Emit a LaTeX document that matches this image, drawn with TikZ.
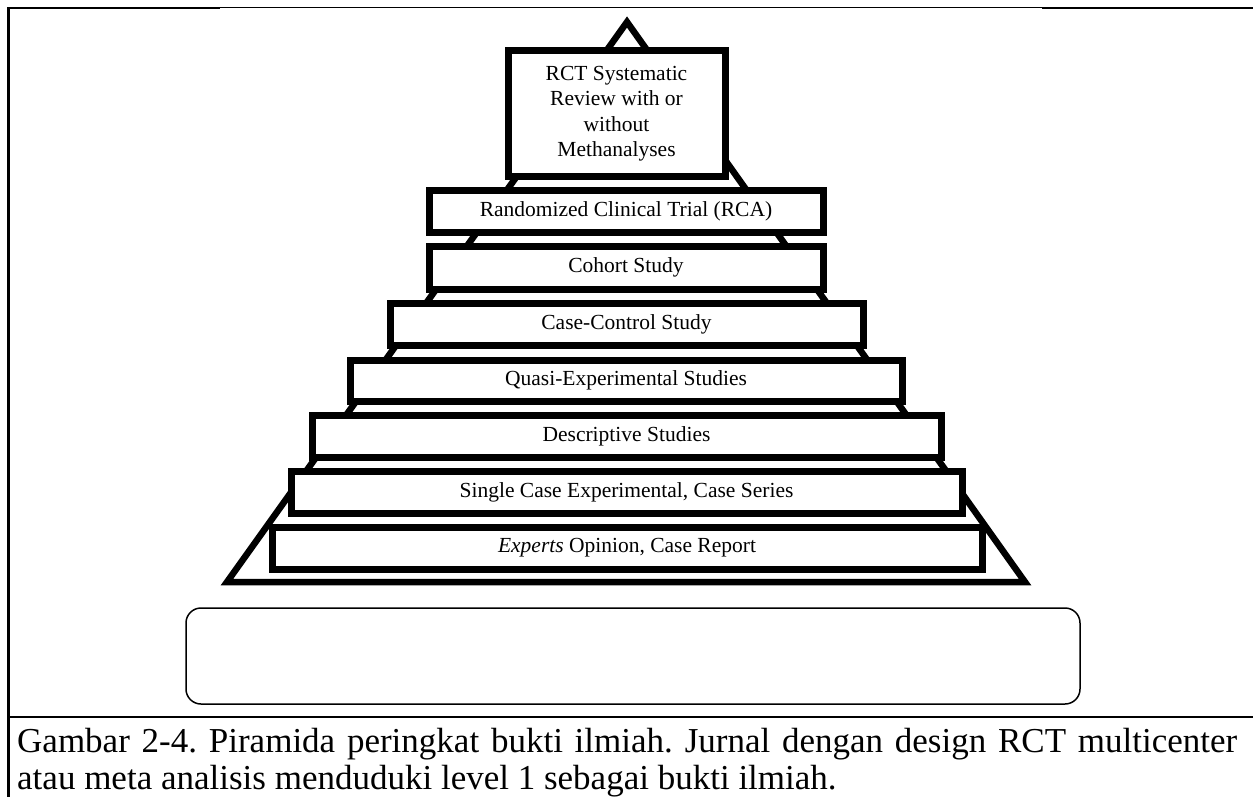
\documentclass[tikz,border=0pt]{standalone}
\usepackage{fontspec}
\setmainfont{Liberation Serif}
\frenchspacing
\begin{document}
\begin{tikzpicture}[x=1pt,y=-1pt,
  tier/.style={draw, line width=7pt, fill=white, inner sep=0pt,
    font=\fontsize{21.5}{25.5}\selectfont, align=center},
  frameline/.style={line width=1.5pt},
  caption/.style={anchor=north west, inner sep=0pt, text width=1220pt,
    align=justify, font=\fontsize{35}{37}\selectfont}
]
\useasboundingbox (0,0) rectangle (1253,797);

% pyramid outline behind the tiers
\coordinate (apex) at (627,22);
\coordinate (baseR) at (1025,582);
\coordinate (baseL) at (227,582);
\draw[line width=6.5pt, line join=miter] (apex) -- (baseR) -- (baseL) -- cycle;

% tiers, top to bottom
\node[tier, minimum width=217pt, minimum height=125pt] (t1) at (616.5,113.5)
  {RCT Systematic\\Review with or\\without\\Methanalyses};
\node[tier, minimum width=394pt, minimum height=42pt] (t2) at (626,211)
  {Randomized Clinical Trial (RCA)};
\node[tier, minimum width=394pt, minimum height=43pt] (t3) at (626,267.5)
  {Cohort Study};
\node[tier, minimum width=473pt, minimum height=42pt] (t4) at (626.5,324)
  {Case-Control Study};
\node[tier, minimum width=552pt, minimum height=41pt] (t5) at (626,380.5)
  {Quasi-Experimental Studies};
\node[tier, minimum width=629pt, minimum height=42pt] (t6) at (626.5,436)
  {Descriptive Studies};
\node[tier, minimum width=671pt, minimum height=42pt] (t7) at (626.5,492)
  {Single Case Experimental, Case Series};
\node[tier, minimum width=710pt, minimum height=42pt] (t8) at (627,548)
  {\textit{Experts} Opinion, Case Report};

% empty rounded box under the pyramid
\node[draw, line width=1.5pt, rounded corners=15pt, minimum width=894pt,
  minimum height=96pt, inner sep=0pt] (blank) at (633,656) {};

% table frame
\draw[line width=2.5pt] (8.5,797) -- (8.5,8) -- (220,8);
\draw[line width=1.3pt] (220,7.5) -- (1042,7.5);
\draw[line width=2.5pt] (1042,8) -- (1253,8);
\draw[frameline] (8.5,717) -- (1253,717);

% caption
\node[caption] (cap) at (17,728)
  {Gambar 2-4. Piramida peringkat bukti ilmiah. Jurnal dengan design RCT multicenter\linebreak
   atau meta analisis menduduki level 1 sebagai bukti ilmiah.};
\end{tikzpicture}
\end{document}
